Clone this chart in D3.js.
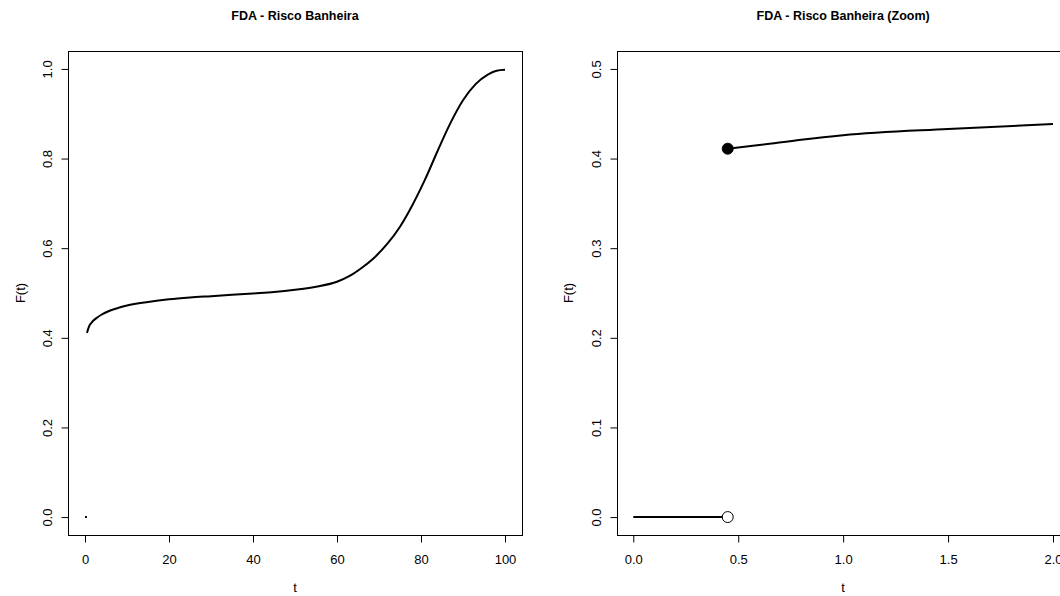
<!DOCTYPE html>
<html>
<head>
<meta charset="utf-8">
<script src="https://cdn.jsdelivr.net/npm/d3@7"></script>
<style>
  html, body { margin: 0; padding: 0; background: #fff; }
  svg { display: block; font-family: "Liberation Sans", Arial, sans-serif; }
</style>
</head>
<body>
<svg id="chart" width="1060" height="596"></svg>
<script>
// ---- data ----
const jumpT = 0.45;               // jump point of the CDF
const preJump = [[0, 0], [0.45, 0]];   // F(t) = 0 before the jump
const curveT = [0.45, 0.6, 0.8, 1.0, 1.5, 2.0, 3, 4, 6, 8, 10, 15, 20, 25, 30, 35, 40, 45, 50, 55, 60, 63, 66, 69, 72, 75, 78, 81, 84, 87, 90, 93, 96, 98, 100];
const curveF = [0.411, 0.415, 0.421, 0.426, 0.433, 0.4386, 0.446, 0.452, 0.461, 0.467, 0.472, 0.480, 0.486, 0.490, 0.493, 0.496, 0.499, 0.502, 0.507, 0.514, 0.525, 0.538, 0.557, 0.580, 0.610, 0.648, 0.697, 0.754, 0.818, 0.879, 0.930, 0.966, 0.988, 0.996, 0.998];
const leftXTicks = [0, 20, 40, 60, 80, 100];
const leftYTicks = [0, 0.2, 0.4, 0.6, 0.8, 1.0];
const rightXTicks = [0, 0.5, 1.0, 1.5, 2.0];
const rightYTicks = [0, 0.1, 0.2, 0.3, 0.4, 0.5];
const titles = ["FDA - Risco Banheira", "FDA - Risco Banheira (Zoom)"];
const xLabel = "t";
const yLabel = "F(t)";

const svg = d3.select("#chart");
svg.append("rect").attr("width", 1060).attr("height", 596).attr("fill", "#fff");

const curve = curveT.map((t, i) => [t, curveF[i]]);

function panel(opts) {
  const { x, y, xTicks, yTicks, xFmt, yFmt, title, data, showPoints } = opts;
  const g = svg.append("g");
  const [x0, x1] = x.range();
  const [y0, y1] = y.range(); // y0 bottom, y1 top

  const cid = "clip" + Math.round(x0);
  svg.append("clipPath").attr("id", cid)
    .append("rect").attr("x", x0).attr("y", y1).attr("width", x1 - x0).attr("height", y0 - y1);

  const line = d3.line().x(d => x(d[0])).y(d => y(d[1])).curve(d3.curveMonotoneX);
  const dg = g.append("g").attr("clip-path", `url(#${cid})`);
  dg.append("path").datum(preJump).attr("d", line)
    .attr("fill", "none").attr("stroke", "#000").attr("stroke-width", 2);
  dg.append("path").datum(data).attr("d", line)
    .attr("fill", "none").attr("stroke", "#000").attr("stroke-width", 2);

  if (showPoints) {
    g.append("circle").attr("cx", x(jumpT)).attr("cy", y(0)).attr("r", 5.5)
      .attr("fill", "#fff").attr("stroke", "#000").attr("stroke-width", 1);
    g.append("circle").attr("cx", x(jumpT)).attr("cy", y(curveF[0])).attr("r", 5.5)
      .attr("fill", "#000").attr("stroke", "#000").attr("stroke-width", 1);
  }

  g.append("rect").attr("x", Math.round(x0) + 0.5).attr("y", Math.round(y1) + 0.5)
    .attr("width", Math.round(x1) - Math.round(x0)).attr("height", Math.round(y0) - Math.round(y1))
    .attr("fill", "none").attr("stroke", "#000").attr("stroke-width", 1);

  const xa = g.append("g").attr("transform", `translate(0,${Math.round(y0) + 0.5})`)
    .call(d3.axisBottom(x).tickValues(xTicks).tickSize(7).tickPadding(12).tickFormat(xFmt));
  xa.select(".domain").remove();
  xa.selectAll("text").attr("font-size", 13).attr("fill", "#000")
    .attr("font-family", '"Liberation Sans", Arial, sans-serif');
  xa.selectAll("line").attr("stroke", "#000");

  const ya = g.append("g").attr("transform", `translate(${Math.round(x0) + 0.5},0)`)
    .call(d3.axisLeft(y).tickValues(yTicks).tickSize(7).tickFormat(""));
  ya.select(".domain").remove();
  ya.selectAll("line").attr("stroke", "#000");
  ya.selectAll(".tick").append("text")
    .attr("transform", "translate(-21,0) rotate(-90)")
    .attr("text-anchor", "middle").attr("dominant-baseline", "central")
    .attr("font-size", 13).attr("fill", "#000")
    .attr("font-family", '"Liberation Sans", Arial, sans-serif')
    .text(d => yFmt(d));

  const cx = (x0 + x1) / 2;
  g.append("text").attr("x", cx).attr("y", 20).attr("text-anchor", "middle")
    .attr("font-size", 12.5).attr("font-weight", "bold").text(title);
  g.append("text").attr("x", cx).attr("y", 592).attr("text-anchor", "middle")
    .attr("font-size", 13).text(xLabel);
  g.append("text").attr("transform", `translate(${x0 - 48},${(y0 + y1) / 2}) rotate(-90)`)
    .attr("text-anchor", "middle").attr("dominant-baseline", "central")
    .attr("font-size", 13).text(yLabel);
}

panel({
  x: d3.scaleLinear().domain([-4, 104]).range([68.2, 521.8]),
  y: d3.scaleLinear().domain([-0.04, 1.04]).range([535, 51]),
  xTicks: leftXTicks, yTicks: leftYTicks,
  xFmt: d3.format("d"), yFmt: d3.format(".1f"),
  title: titles[0], data: curve, showPoints: false
});

panel({
  x: d3.scaleLinear().domain([-0.08, 2.08]).range([616.5, 1069.8]),
  y: d3.scaleLinear().domain([-0.02, 0.52]).range([535, 51]),
  xTicks: rightXTicks, yTicks: rightYTicks,
  xFmt: d3.format(".1f"), yFmt: d3.format(".1f"),
  title: titles[1], data: curve.filter(d => d[0] <= 2.0), showPoints: true
});
</script>
</body>
</html>
